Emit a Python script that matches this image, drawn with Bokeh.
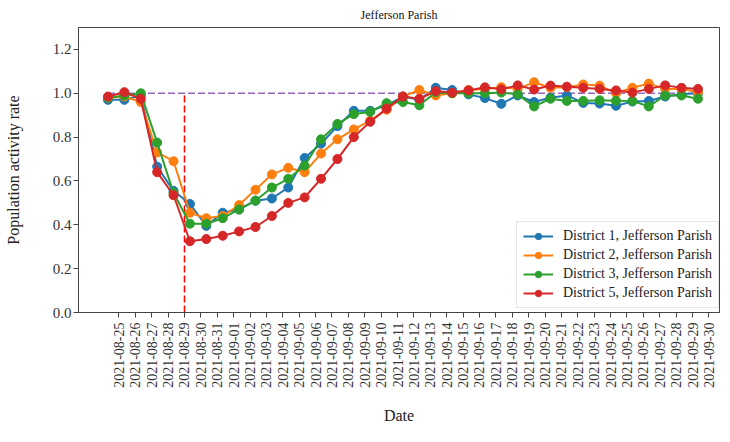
import math
import pandas as pd
from bokeh.plotting import figure
from bokeh.models import (FixedTicker, DatetimeTickFormatter, NumeralTickFormatter,
                          Range1d, Legend, LegendItem, ColumnDataSource)
from bokeh.embed import file_html
from bokeh.resources import INLINE

# ---------------- data ----------------
dates = ["2021-08-24", "2021-08-25", "2021-08-26", "2021-08-27", "2021-08-28",
         "2021-08-29", "2021-08-30", "2021-08-31", "2021-09-01", "2021-09-02",
         "2021-09-03", "2021-09-04", "2021-09-05", "2021-09-06", "2021-09-07",
         "2021-09-08", "2021-09-09", "2021-09-10", "2021-09-11", "2021-09-12",
         "2021-09-13", "2021-09-14", "2021-09-15", "2021-09-16", "2021-09-17",
         "2021-09-18", "2021-09-19", "2021-09-20", "2021-09-21", "2021-09-22",
         "2021-09-23", "2021-09-24", "2021-09-25", "2021-09-26", "2021-09-27",
         "2021-09-28", "2021-09-29"]
sample_hour = 8

tick_labels = ["2021-08-25", "2021-08-26", "2021-08-27", "2021-08-28", "2021-08-29",
               "2021-08-30", "2021-08-31", "2021-09-01", "2021-09-02", "2021-09-03",
               "2021-09-04", "2021-09-05", "2021-09-06", "2021-09-07", "2021-09-08",
               "2021-09-09", "2021-09-10", "2021-09-11", "2021-09-12", "2021-09-13",
               "2021-09-14", "2021-09-15", "2021-09-16", "2021-09-17", "2021-09-18",
               "2021-09-19", "2021-09-20", "2021-09-21", "2021-09-22", "2021-09-23",
               "2021-09-24", "2021-09-25", "2021-09-26", "2021-09-27", "2021-09-28",
               "2021-09-29", "2021-09-30"]

district1 = [0.97, 0.97, 0.99, 0.665, 0.555, 0.495, 0.395, 0.455, 0.47, 0.51,
             0.52, 0.57, 0.705, 0.77, 0.85, 0.92, 0.92, 0.945, 0.985, 0.97,
             1.025, 1.015, 0.995, 0.978, 0.952, 0.99, 0.96, 0.98, 0.99, 0.956,
             0.953, 0.943, 0.962, 0.965, 0.985, 0.995, 1.0]
district2 = [0.98, 0.985, 0.96, 0.73, 0.69, 0.455, 0.43, 0.44, 0.49, 0.56,
             0.63, 0.66, 0.64, 0.725, 0.79, 0.835, 0.875, 0.925, 0.985, 1.015,
             0.99, 1.0, 1.015, 1.02, 1.028, 1.02, 1.05, 1.025, 1.028, 1.04,
             1.035, 1.0, 1.025, 1.044, 1.02, 1.02, 1.005]
district3 = [0.98, 0.99, 1.0, 0.775, 0.545, 0.405, 0.405, 0.43, 0.47, 0.51,
             0.57, 0.61, 0.67, 0.79, 0.86, 0.905, 0.915, 0.955, 0.96, 0.945,
             1.005, 1.0, 1.0, 1.0, 1.003, 0.995, 0.94, 0.975, 0.965, 0.965,
             0.968, 0.966, 0.965, 0.94, 0.99, 0.99, 0.975]
district5 = [0.985, 1.005, 0.975, 0.64, 0.535, 0.325, 0.335, 0.35, 0.37, 0.39,
             0.44, 0.50, 0.525, 0.61, 0.70, 0.80, 0.87, 0.93, 0.985, 0.975,
             1.01, 1.003, 1.013, 1.027, 1.018, 1.036, 1.017, 1.035, 1.03, 1.025,
             1.02, 1.013, 1.003, 1.02, 1.036, 1.025, 1.02]

series = [district1, district2, district3, district5]
names = ["District 1, Jefferson Parish", "District 2, Jefferson Parish",
         "District 3, Jefferson Parish", "District 5, Jefferson Parish"]
colors = ["#1f77b4", "#ff7f0e", "#2ca02c", "#d62728"]

event_date = "2021-08-29"
baseline = 1.0
y_ticks = [0.0, 0.2, 0.4, 0.6, 0.8, 1.0, 1.2]

# ---------------- figure ----------------
x = pd.to_datetime(dates) + pd.Timedelta(hours=sample_hour)
span = x[-1] - x[0]
pad = span * 0.05
x_start = x[0] - pad
x_end = x[-1] + pad * 0.73   # frame is a little narrower than the original's

SERIF = "Liberation Serif"

p = figure(width=720, height=426, x_axis_type="datetime",
           output_backend="svg", toolbar_location=None,
           x_range=Range1d(x_start, x_end), y_range=Range1d(0, 1.3),
           min_border_left=78, min_border_right=1, min_border_top=27,
           min_border_bottom=113)

p.title.text = "Jefferson Parish"
p.title.text_font = SERIF
p.title.text_font_size = "12px"
p.title.text_font_style = "normal"
p.title.text_color = "#111111"
p.title.align = "center"
p.title.vertical_align = "middle"

p.grid.visible = False
p.outline_line_color = "#444444"
p.background_fill_color = "white"
p.border_fill_color = "white"

# reference lines
p.segment(x0=[x[0]], y0=[baseline], x1=[x[-1]], y1=[baseline],
          line_color="#9467bd", line_width=1.5, line_dash="7 3")
ev = pd.to_datetime([event_date])
p.segment(x0=ev, y0=[0], x1=ev, y1=[baseline],
          line_color="#ff0000", line_width=1.5, line_dash="7 3")

items = []
for vals, name, col in zip(series, names, colors):
    src = ColumnDataSource(dict(x=x, y=vals))
    r1 = p.line("x", "y", source=src, line_color=col, line_width=2)
    r2 = p.scatter("x", "y", source=src, size=9, fill_color=col, line_color=col)
    items.append(LegendItem(label=name, renderers=[r1, r2]))

# axes
xa = p.xaxis[0]
xa.ticker = FixedTicker(ticks=[pd.Timestamp(t).value / 1e6 for t in tick_labels])
fmt = "%Y-%m-%d"
xa.formatter = DatetimeTickFormatter(microseconds=fmt, milliseconds=fmt, seconds=fmt,
                                     minsec=fmt, minutes=fmt, hourmin=fmt, hours=fmt,
                                     days=fmt, months=fmt, years=fmt)
xa.major_label_orientation = math.pi / 2
xa.major_label_standoff = 5
xa.axis_label = "Date"
xa.axis_label_standoff = 16

ya = p.yaxis[0]
ya.ticker = FixedTicker(ticks=y_ticks)
ya.formatter = NumeralTickFormatter(format="0.0")
ya.axis_label = "Population activity rate"
ya.major_label_standoff = 2
ya.axis_label_standoff = 28

for ax in (xa, ya):
    ax.minor_tick_line_color = None
    ax.major_tick_in = 0
    ax.major_tick_out = 5
    ax.axis_line_color = "#444444"
    ax.major_tick_line_color = "#444444"
    ax.major_label_text_font = SERIF
    ax.major_label_text_color = "#333333"
    ax.axis_label_text_font = SERIF
    ax.axis_label_text_font_style = "normal"
    ax.axis_label_text_font_size = "16px"
    ax.axis_label_text_color = "#222222"
xa.major_label_text_font_size = "14px"
ya.major_label_text_font_size = "15px"

legend = Legend(items=items, location=(438, 4))
legend.label_text_font = SERIF
legend.label_text_font_size = "14px"
legend.label_text_color = "#222222"
legend.glyph_width = 30
legend.glyph_height = 16
legend.label_height = 16
legend.spacing = 3
legend.padding = 6
legend.margin = 0
legend.label_standoff = 10
legend.border_line_color = "#cccccc"
legend.background_fill_alpha = 0.8
p.add_layout(legend)

open("out.html", "w").write(file_html(p, INLINE))
